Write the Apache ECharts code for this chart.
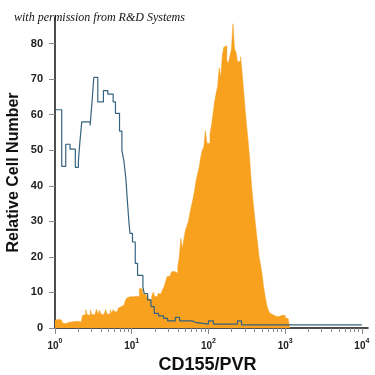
<!DOCTYPE html>
<html>
<head>
<meta charset="utf-8">
<script src="https://cdn.jsdelivr.net/npm/echarts@6/dist/echarts.min.js"></script>
<style>html,body{margin:0;padding:0;background:#fff}#c{width:375px;height:375px}</style>
</head>
<body>
<div id="c"></div>
<script>
// x values are log10(fluorescence)
const xTickValues = [0, 1, 2, 3, 4];
const xTickExponents = ['0', '1', '2', '3', '4'];
const yTickValues = [0, 10, 20, 30, 40, 50, 60, 70, 80];

// CD155/PVR stained (orange filled histogram), bins of 0.02 decades starting at log10 = 0
const orangeBinStart = 0;
const orangeBinWidth = 0.02;
const orangeValues = [
  2.2, 2.4, 2.1, 2.3, 2.0, 1.4, 1.2, 1.5, 1.6, 1.4,
  1.7, 1.6, 1.8, 1.7, 1.9, 1.8, 1.7, 1.9, 3.6, 3.7,
  5.2, 3.7, 3.6, 5.1, 3.8, 3.7, 3.6, 5.3, 3.8, 5.0,
  3.9, 3.8, 3.7, 5.2, 3.9, 4.0, 5.1, 4.2, 5.2, 4.5,
  4.8, 5.5, 6.0, 5.8, 6.5, 7.0, 7.9, 8.5, 8.8, 8.3,
  8.8, 8.6, 8.9, 9.2, 8.8, 11.1, 11.0, 9.7, 9.5, 8.8,
  9.5, 8.2, 7.9, 8.8, 10.1, 8.9, 8.8, 9.7, 9.6, 9.9,
  10.7, 11.5, 13.0, 14.4, 14.6, 14.2, 15.8, 15.9, 15.5, 15.4,
  17.2, 20.0, 25.2, 22.4, 25.0, 27.5, 28.8, 30.0, 32.5, 34.5,
  36.4, 38.8, 41.6, 43.5, 45.3, 48.1, 50.0, 51.0, 55.6, 52.0,
  51.9, 54.7, 57.0, 60.3, 63.6, 66.0, 68.0, 73.2, 70.5, 76.5,
  79.0, 79.4, 75.3, 74.4, 76.5, 78.5, 85.6, 78.6, 77.5, 74.8,
  75.2, 76.3, 71.5, 66.5, 61.0, 56.5, 52.0, 47.0, 40.6, 36.0,
  31.8, 27.8, 24.0, 20.0, 17.7, 15.0, 11.5, 8.8, 6.5, 5.0,
  4.2, 3.7, 3.5, 3.3, 3.2, 3.2, 3.4, 3.6, 3.3, 3.5,
  2.9, 2.6, 2.2
];

// Isotype control (blue step line): left edge (log10) and value of each step
const blueEdges = [
  0, 0.088, 0.140, 0.196, 0.265, 0.305, 0.327, 0.349, 0.458, 0.484,
  0.506, 0.558, 0.631, 0.689, 0.758, 0.788, 0.841, 0.872, 0.898, 0.924,
  0.945, 0.965, 0.978, 1.010, 1.046, 1.076, 1.146, 1.163, 1.207, 1.251,
  1.294, 1.350, 1.416, 1.468, 1.569, 1.625, 1.787, 1.830, 2.000, 2.065,
  2.379, 2.431, 4.000
];
const blueValues = [
  61.4, 45.5, 51.7, 50.3, 45.2, 47.0, 53.0, 58.0, 57.0, 64.0,
  70.5, 63.6, 66.8, 65.8, 63.6, 60.4, 55.4, 50.0, 47.0, 42.0,
  35.2, 29.4, 26.6, 24.2, 18.2, 14.8, 11.6, 9.7, 7.9, 6.0,
  4.1, 3.4, 2.7, 2.0, 3.0, 2.0, 1.6, 1.1, 2.0, 1.1,
  2.0, 0.9, 0.9
];

const minorTicks = [];
for (let n = 0; n < 4; n++) for (let k = 2; k <= 9; k++) minorTicks.push(n + Math.log10(k));

const orangeData = orangeValues.map((v, i) => [orangeBinStart + i * orangeBinWidth, v]);
orangeData.push([orangeBinStart + orangeValues.length * orangeBinWidth, 0]);
const blueData = blueEdges.map((x, i) => [x, blueValues[i]]);

const chart = echarts.init(document.getElementById('c'), null, {renderer: 'canvas'});
const X_MAX = 4.08;
chart.setOption({
  animation: false,
  backgroundColor: '#fff',
  title: {
    text: 'with permission from R&D Systems',
    left: 9, top: 7,
    textStyle: {fontFamily: 'Liberation Serif', fontStyle: 'italic', fontWeight: 'normal', fontSize: 12, color: '#111'}
  },
  grid: {left: 55, right: 7, top: 17, bottom: 47, containLabel: false, outerBoundsMode: 'none'},
  xAxis: [{
    type: 'value', min: 0, max: X_MAX,
    name: 'CD155/PVR', nameLocation: 'middle', nameGap: 28,
    nameTextStyle: {fontFamily: 'Liberation Sans', fontWeight: 'bold', fontSize: 18, color: '#111', padding: [0, 8, 0, 0]},
    axisLine: {show: true, lineStyle: {color: '#111', width: 1.5}},
    axisTick: {show: true, length: 6, lineStyle: {color: '#888'}, customValues: xTickValues},
    axisLabel: {customValues: xTickValues, margin: 10, color: '#222',
      formatter: v => {
        const i = xTickValues.indexOf(Math.round(v));
        return i < 0 ? '' : '{b|10}{s|' + xTickExponents[i] + '}';
      },
      rich: {
        b: {fontFamily: 'Liberation Sans', fontWeight: 'bold', fontSize: 10, lineHeight: 13, verticalAlign: 'bottom', color: '#222'},
        s: {fontFamily: 'Liberation Sans', fontWeight: 'bold', fontSize: 7, lineHeight: 8, verticalAlign: 'top', color: '#222'}
      }
    },
    splitLine: {show: false}
  }, {
    type: 'value', min: 0, max: X_MAX, position: 'bottom', gridIndex: 0,
    axisLine: {show: false},
    axisTick: {show: true, length: 4, lineStyle: {color: '#888'}, customValues: minorTicks},
    axisLabel: {show: false},
    splitLine: {show: false}
  }],
  yAxis: {
    type: 'value', min: 0, max: 87.5, interval: 10,
    name: 'Relative Cell Number', nameLocation: 'middle', nameGap: 33, nameMoveOverlap: false,
    nameTextStyle: {fontFamily: 'Liberation Sans', fontWeight: 'bold', fontSize: 16, color: '#111'},
    axisLine: {show: true, lineStyle: {color: '#111', width: 1.5}},
    axisTick: {show: true, length: 6, lineStyle: {color: '#888'}, customValues: yTickValues},
    axisLabel: {customValues: yTickValues, margin: 12, fontFamily: 'Liberation Sans', fontWeight: 'bold', fontSize: 11, color: '#222'},
    splitLine: {show: false}
  },
  series: [{
    type: 'line', step: 'end', data: orangeData, symbol: 'none',
    lineStyle: {width: 0.5, color: '#F7A11E'},
    areaStyle: {color: '#F7A11E', opacity: 1},
    z: 2
  }, {
    type: 'line', step: 'end', data: blueData, symbol: 'none',
    lineStyle: {width: 1.2, color: '#35637f'},
    z: 3
  }]
});
</script>
</body>
</html>
